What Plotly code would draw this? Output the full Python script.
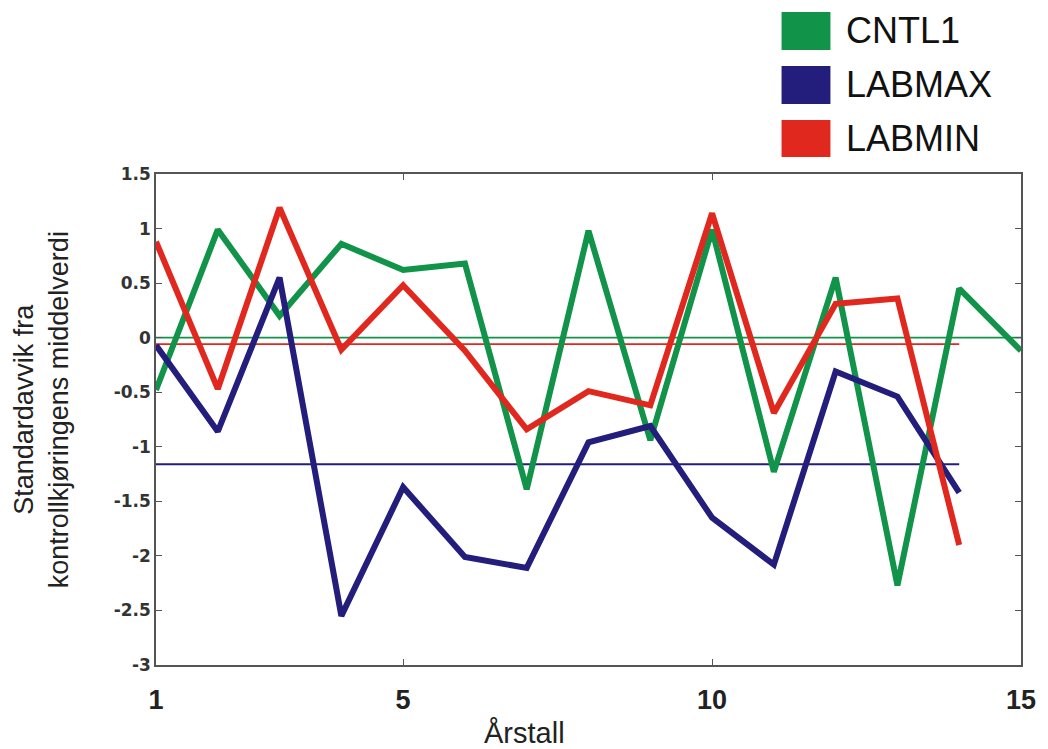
import plotly.graph_objects as go

years = list(range(1, 16))
cntl1 = [-0.48, 0.99, 0.20, 0.86, 0.62, 0.68, -1.39, 0.98, -0.94, 0.99, -1.23, 0.55, -2.27, 0.45, -0.12]
labmax = [-0.07, -0.86, 0.55, -2.55, -1.37, -2.01, -2.11, -0.96, -0.81, -1.65, -2.08, -0.31, -0.54, -1.42]
labmin = [0.88, -0.47, 1.19, -0.11, 0.48, -0.12, -0.84, -0.49, -0.62, 1.14, -0.69, 0.31, 0.36, -1.90]
mean_cntl1 = 0.0
mean_labmax = -1.16
mean_labmin = -0.06

names = ["CNTL1", "LABMAX", "LABMIN"]
colors = ["#11934a", "#231d7c", "#e0281f"]
yticks = [1.5, 1, 0.5, 0, -0.5, -1, -1.5, -2, -2.5, -3]
xticks = [1, 5, 10, 15]

OFF = 8  # page body margin
W, H = 1048 - OFF, 749 - OFF
L, R, T, B = 156 - OFF, 25, 174 - OFF, 84
pw, ph = W - L - R, H - T - B

def px(x):
    return (x - OFF - L) / pw

def py(y):
    return (H - B - (y - OFF)) / ph

fig = go.Figure()
series = [cntl1, labmax, labmin]
means = [mean_cntl1, mean_labmax, mean_labmin]
for s, m, c in zip(series, means, colors):
    xs = years[:len(s)]
    fig.add_trace(go.Scatter(x=[xs[0], xs[-1]], y=[m, m], mode="lines",
                             line=dict(color=c, width=1.8), showlegend=False, hoverinfo="skip"))
for s, c, n in zip(series, colors, names):
    xs = years[:len(s)]
    fig.add_trace(go.Scatter(x=xs, y=s, mode="lines", name=n,
                             line=dict(color=c, width=6), showlegend=False))

shapes = []
annotations = []
leg_y = [(12, 50), (66, 104), (120, 157)]
for (y0, y1), c, n in zip(leg_y, colors, names):
    shapes.append(dict(type="rect", xref="paper", yref="paper",
                       x0=px(783), x1=px(832), y0=py(y1), y1=py(y0),
                       fillcolor=c, line=dict(width=0)))
    annotations.append(dict(xref="paper", yref="paper", x=px(846), y=py((y0 + y1) / 2),
                            text=n, showarrow=False, xanchor="left", yanchor="middle",
                            font=dict(family="Liberation Sans, Arial", size=36, color="#111")))

annotations.append(dict(xref="paper", yref="paper", x=px(525), y=py(733), text="Årstall",
                        showarrow=False, xanchor="center", yanchor="middle",
                        font=dict(family="Liberation Sans, Arial", size=29, color="#222")))
annotations.append(dict(xref="paper", yref="paper", x=px(41), y=py(410),
                        text="Standardavvik fra<br>kontrollkjøringens middelverdi",
                        textangle=-90, showarrow=False, xanchor="center", yanchor="middle",
                        font=dict(family="Liberation Sans, Arial", size=27, color="#222")))

axis_common = dict(showline=True, linecolor="#555", linewidth=1.5, mirror="ticks",
                   ticks="inside", ticklen=6, tickcolor="#555", showgrid=False, zeroline=False)

fig.update_layout(
    width=W, height=H,
    margin=dict(l=L, r=R, t=T, b=B),
    paper_bgcolor="white", plot_bgcolor="white",
    shapes=shapes, annotations=annotations,
    xaxis=dict(range=[1, 15], tickvals=xticks, ticktext=[str(v) for v in xticks],
               tickfont=dict(family="Liberation Sans, Arial", size=27, color="#222", weight="bold"),
               ticklabelstandoff=10, **axis_common),
    yaxis=dict(range=[-3, 1.5], tickvals=yticks, ticktext=[f"{v:g}" for v in yticks],
               tickfont=dict(family="DejaVu Sans, Liberation Sans", size=17, color="#333", weight="bold"),
               ticklabelstandoff=0, **axis_common),
)

fig.write_html("out.html")
